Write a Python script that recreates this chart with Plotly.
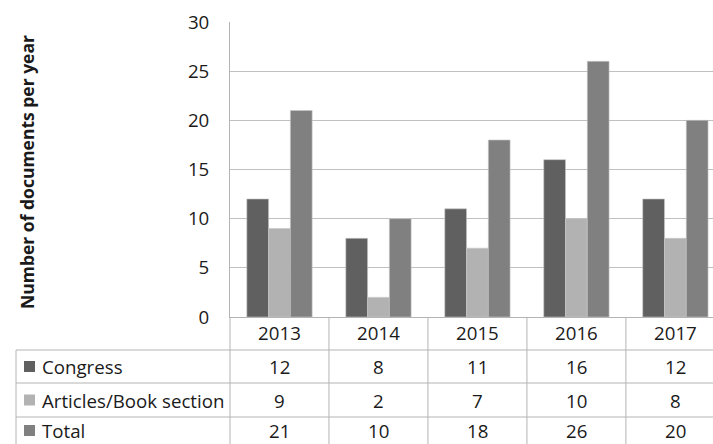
import plotly.graph_objects as go

years = ["2013", "2014", "2015", "2016", "2017"]
congress = [12, 8, 11, 16, 12]
articles = [9, 2, 7, 10, 8]
total = [21, 10, 18, 26, 20]
series_names = ["Congress", "Articles/Book section", "Total"]
series_values = [congress, articles, total]
series_colors = ["#606060", "#b2b2b2", "#808080"]

W, H = 713, 444
L, T, B = 230, 22, 127
PW, PH = W - L, H - T - B
XR = [-0.5, 4.38]

def px2x(px):
    return (px - L) / PW

def py2y(py):
    return (H - B - py) / PH

def cat2x(c):
    return (c - XR[0]) / (XR[1] - XR[0])

FONT = "Open Sans"
TXT = "#1a1a1a"
LINE = "#b4b4b4"
FS = 18.7

fig = go.Figure()
for name, vals, col in zip(series_names, series_values, series_colors):
    fig.add_trace(go.Bar(x=list(range(len(years))), y=vals, name=name, marker=dict(color=col, line=dict(color="#c8c8c8", width=0.6))))

shapes = []
annotations = []

# table horizontal lines
row_lines = [350, 383, 417]
for py in row_lines:
    shapes.append(dict(type="line", xref="paper", yref="paper", x0=px2x(16), x1=1.02, y0=py2y(py), y1=py2y(py), line=dict(color=LINE, width=1)))
# left border of table
shapes.append(dict(type="line", xref="paper", yref="paper", x0=px2x(16), x1=px2x(16), y0=py2y(350), y1=py2y(H + 5), line=dict(color=LINE, width=1)))
# column boundaries
for i in range(len(years)):
    xb = cat2x(i - 0.5)
    shapes.append(dict(type="line", xref="paper", yref="paper", x0=xb, x1=xb, y0=0, y1=py2y(H + 5), line=dict(color=LINE, width=1)))

row_centers = [366.5, 400, 430.5]
for name, vals, col, pyc in zip(series_names, series_values, series_colors, row_centers):
    shapes.append(dict(type="rect", xref="paper", yref="paper", x0=px2x(24), x1=px2x(35), y0=py2y(pyc + 5.5), y1=py2y(pyc - 5.5), fillcolor=col, line=dict(width=0)))
    annotations.append(dict(text=name, xref="paper", yref="paper", x=px2x(40), y=py2y(pyc), xanchor="left", yanchor="middle", showarrow=False, font=dict(family=FONT, size=FS, color=TXT)))
    for i, v in enumerate(vals):
        annotations.append(dict(text=str(v), xref="x", yref="paper", x=i, y=py2y(pyc), xanchor="center", yanchor="middle", showarrow=False, font=dict(family=FONT, size=FS, color=TXT)))

annotations.append(dict(text="<b>Number of documents per year</b>", xref="paper", yref="paper", x=px2x(27), y=py2y(172), textangle=-90, xanchor="center", yanchor="middle", showarrow=False, font=dict(family=FONT, size=17.5, color=TXT)))

fig.update_layout(
    width=W, height=H,
    margin=dict(l=L, r=0, t=T, b=B, pad=0),
    paper_bgcolor="white", plot_bgcolor="white",
    barmode="group", bargap=0.34, bargroupgap=0,
    showlegend=False,
    font=dict(family=FONT, size=FS, color=TXT),
    xaxis=dict(range=XR, tickmode="array", tickvals=list(range(len(years))), ticktext=years,
               showgrid=False, showline=True, linecolor=LINE, ticks="", tickfont=dict(family=FONT, size=FS, color=TXT), zeroline=False),
    yaxis=dict(range=[0, 30], dtick=5, showgrid=True, gridcolor="#c0c0c0", gridwidth=1, showline=True, linecolor=LINE,
               zeroline=False, ticks="", ticklabelstandoff=16, tickfont=dict(family=FONT, size=FS, color=TXT)),
    shapes=shapes, annotations=annotations,
)
fig.write_html("out.html")
